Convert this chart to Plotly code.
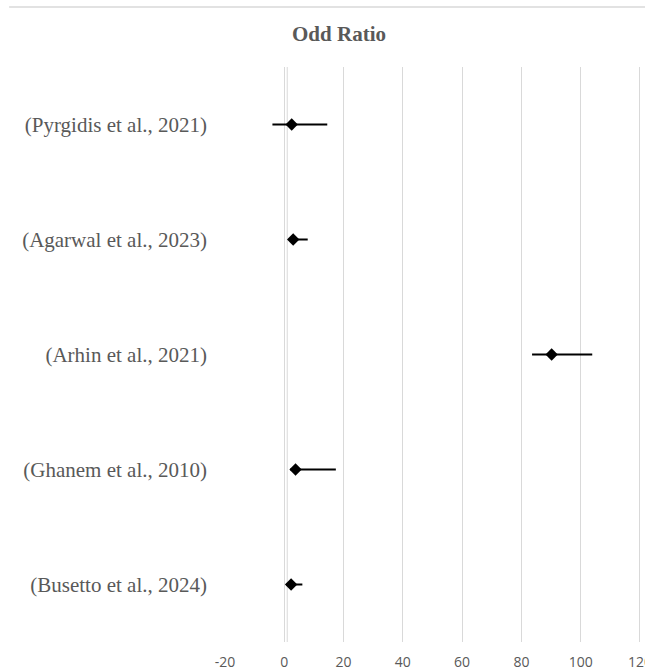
import plotly.graph_objects as go

# Studies and their odds ratios with 95% confidence limits
studies = [
    "(Pyrgidis et al., 2021)",
    "(Agarwal et al., 2023)",
    "(Arhin et al., 2021)",
    "(Ghanem et al., 2010)",
    "(Busetto et al., 2024)",
]
odds_ratio = [2.5, 3.0, 90.2, 3.8, 2.3]
ci_lower = [-4.0, 1.5, 83.6, 2.0, 0.6]
ci_upper = [14.5, 7.9, 103.9, 17.4, 6.1]
x_ticks = [-20, 0, 20, 40, 60, 80, 100, 120]
x_tick_text = ["-20", "0", "20", "40", "60", "80", "100", "120"]

err_plus = [u - o for u, o in zip(ci_upper, odds_ratio)]
err_minus = [o - l for o, l in zip(odds_ratio, ci_lower)]

GRID = "#d9d9d9"
TEXT = "#595959"

fig = go.Figure()
fig.add_trace(go.Scatter(
    x=odds_ratio,
    y=studies,
    mode="markers",
    marker=dict(symbol="diamond", size=9.5, color="black"),
    error_x=dict(type="data", symmetric=False, array=err_plus,
                 arrayminus=err_minus, color="black", thickness=2, width=0),
    showlegend=False,
    hoverinfo="x+y",
))

# Reference line at OR = 1
fig.add_shape(type="line", xref="x", yref="paper", x0=1, x1=1, y0=0, y1=1,
              line=dict(color=GRID, width=1), layer="below")
# Chart frame line along the top
fig.add_shape(type="line", xref="paper", yref="paper", x0=-0.514, x1=1.0,
              y0=1.1043, y1=1.1043, line=dict(color=GRID, width=1.5))

fig.update_layout(
    width=645, height=671,
    margin=dict(l=225, r=0, t=67, b=29, autoexpand=False),
    paper_bgcolor="white", plot_bgcolor="white",
    title=dict(text="<b>Odd Ratio</b>", x=339 / 645, xanchor="center",
               y=1 - 34 / 671, yanchor="middle",
               font=dict(family="Liberation Serif", size=21, color=TEXT)),
    xaxis=dict(range=[-20, 121.7], tickvals=x_ticks, ticktext=x_tick_text,
               showgrid=True, gridcolor=GRID, gridwidth=1, zeroline=False,
               showline=False, ticks="", ticklabelstandoff=10,
               ticklabeloverflow="allow", automargin=False,
               tickfont=dict(family="Open Sans", size=14, color=TEXT)),
    yaxis=dict(categoryorder="array", categoryarray=studies[::-1],
               range=[-0.5, 4.5], showgrid=False, zeroline=False,
               showline=False, ticks="", ticklabelstandoff=17,
               automargin=False,
               tickfont=dict(family="Liberation Serif", size=21, color=TEXT)),
)

fig.write_html("out.html")
